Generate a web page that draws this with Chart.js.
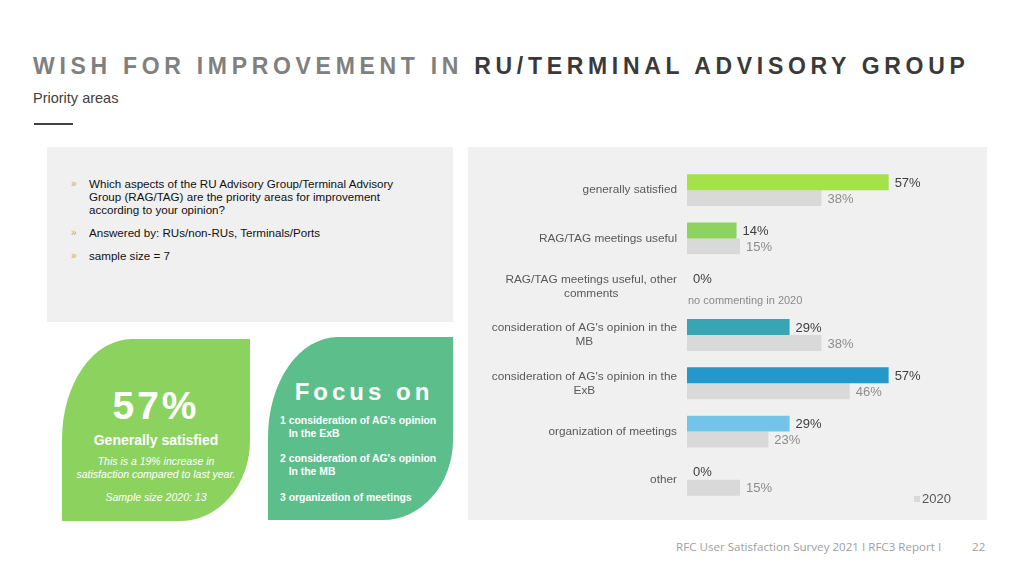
<!DOCTYPE html>
<html>
<head>
<meta charset="utf-8">
<script src="https://cdn.jsdelivr.net/npm/chart.js@4"></script>
<style>
    body { margin: 0; width: 1024px; height: 576px; background: #fff; font-family: "Liberation Sans", Arial, sans-serif; position: relative; overflow: hidden; }
    .title { position: absolute; left: 33px; top: 53px; font-size: 23px; font-weight: bold; letter-spacing: 4.7px; color: #808080; white-space: nowrap; }
    .title span { color: #3a3a3a; }
    .subtitle { position: absolute; left: 33px; top: 90px; font-size: 14.5px; color: #404040; }
    .rule { position: absolute; left: 34px; top: 123px; width: 39px; height: 2px; background: #404040; }
    .info { position: absolute; left: 47px; top: 147px; width: 406px; height: 175px; background: #f0f0f0; }
    .info ul { list-style: none; margin: 0; padding: 30px 0 0 42px; font-size: 11.6px; line-height: 13px; color: #111; }
    .info li { position: relative; margin-bottom: 10px; width: 330px; }
    .info li::before { content: "»"; position: absolute; left: -18px; color: #c9a56a; font-size: 10px; }
    .leaf { position: absolute; color: #fff; border-radius: 70px 0 70px 0 / 100px 0 80px 0; }
    .leaf1 { left: 62px; top: 339px; width: 188px; height: 182px; background: #8cd25f; text-align: center; }
    .leaf2 { left: 268px; top: 337px; width: 185px; height: 183px; background: #5cbe8b; }
    .big { position: absolute; left: 0; width: 188px; top: 45px; font-size: 39px; font-weight: bold; letter-spacing: 3px; }
    .gs { position: absolute; left: 0; width: 188px; top: 93px; font-size: 14px; font-weight: bold; }
    .it { position: absolute; left: 0; width: 188px; font-size: 10.5px; font-style: italic; line-height: 13px; }
    .focus { position: absolute; left: 0; width: 192px; text-align: center; top: 41px; font-size: 24px; font-weight: bold; letter-spacing: 4px; }
    .fi { position: absolute; left: 12px; font-size: 10.4px; font-weight: bold; line-height: 13px; white-space: nowrap; }
    .panel { position: absolute; left: 468px; top: 147px; width: 519px; height: 373px; background: #f0f0f0; }
    .footer { position: absolute; top: 539px; left: 676px; font-size: 11.6px; color: #a0a0a0; font-family: "Open Sans", sans-serif; white-space: nowrap; }
    .page { position: absolute; top: 539px; left: 972px; font-size: 11.6px; color: #a0a0a0; font-family: "Open Sans", sans-serif; }
</style>
</head>
<body>
<div class="title">WISH FOR IMPROVEMENT IN <span>RU/TERMINAL ADVISORY GROUP</span></div>
<div class="subtitle">Priority areas</div>
<div class="rule"></div>

<div class="info">
    <ul>
        <li>Which aspects of the RU Advisory Group/Terminal Advisory Group (RAG/TAG) are the priority areas for improvement according to your opinion?</li>
        <li>Answered by: RUs/non-RUs, Terminals/Ports</li>
        <li>sample size = 7</li>
    </ul>
</div>

<div class="leaf leaf1">
    <div class="big">57%</div>
    <div class="gs">Generally satisfied</div>
    <div class="it" style="top:116px">This is a 19% increase in<br>satisfaction compared to last year.</div>
    <div class="it" style="top:152px">Sample size 2020: 13</div>
</div>
<div class="leaf leaf2">
    <div class="focus">Focus on</div>
    <div class="fi" style="top:77px">1 consideration of AG's opinion<br>&nbsp;&nbsp;&nbsp;In the ExB</div>
    <div class="fi" style="top:115px">2 consideration of AG's opinion<br>&nbsp;&nbsp;&nbsp;In the MB</div>
    <div class="fi" style="top:154px">3 organization of meetings</div>
</div>

<div class="panel"><canvas id="chart" width="519" height="373"></canvas></div>

<div class="footer">RFC User Satisfaction Survey 2021 I RFC3 Report I</div>
<div class="page">22</div>

<script>
// categories (each entry = label lines)
const categories = [
    ['generally satisfied'],
    ['RAG/TAG meetings useful'],
    ['RAG/TAG meetings useful, other', 'comments'],
    ["consideration of AG's opinion in the", 'MB'],
    ["consideration of AG's opinion in the", 'ExB'],
    ['organization of meetings'],
    ['other']
];
const values2021 = [57, 14, 0, 29, 57, 29, 0];
const values2020 = [38, 15, null, 38, 46, 23, 15];
const notes2020 = [null, null, 'no commenting in 2020', null, null, null, null];
const colors2021 = ['#a3e24a', '#8dd35f', '#8dd35f', '#36a6b4', '#2399cb', '#72c5e8', '#8dd35f'];
const color2020 = '#d9d9d9';

// value labels next to bars + notes
const valueLabels = {
    id: 'valueLabels',
    afterDatasetsDraw(chart) {
        const ctx = chart.ctx;
        const xScale = chart.scales.x;
        ctx.save();
        ctx.textBaseline = 'middle';
        ctx.textAlign = 'left';
        chart.data.datasets.forEach((ds, i) => {
            const meta = chart.getDatasetMeta(i);
            meta.data.forEach((bar, j) => {
                const v = ds.data[j];
                if (v === null) {
                    if (i === 1 && notes2020[j]) {
                        ctx.font = '11px "Liberation Sans", Arial, sans-serif';
                        ctx.fillStyle = '#8a8a8a';
                        ctx.fillText(notes2020[j], xScale.getPixelForValue(0) + 1, bar.y + 6);
                    }
                    return;
                }
                ctx.font = '13px "Liberation Sans", Arial, sans-serif';
                ctx.fillStyle = i === 0 ? '#404040' : '#8c8c8c';
                ctx.fillText(v + '%', bar.x + 6, bar.y + 1);
            });
        });
        ctx.restore();
    }
};

// category labels: block right aligned, lines centred inside the block
const catLabels = {
    id: 'catLabels',
    afterDraw(chart) {
        const ctx = chart.ctx;
        const yScale = chart.scales.y;
        const right = chart.chartArea.left - 10;
        ctx.save();
        ctx.font = '11.8px "Liberation Sans", Arial, sans-serif';
        ctx.fillStyle = '#595959';
        ctx.textBaseline = 'middle';
        ctx.textAlign = 'center';
        categories.forEach((lines, j) => {
            const y = yScale.getPixelForValue(j);
            const w = Math.max(...lines.map(l => ctx.measureText(l).width));
            const cx = right - w / 2;
            const lh = 14;
            const y0 = y - (lines.length - 1) * lh / 2;
            lines.forEach((l, k) => ctx.fillText(l, cx, y0 + k * lh));
        });
        // legend for 2020
        const lx = chart.chartArea.right - 56;
        const ly = chart.chartArea.bottom - 5;
        ctx.fillStyle = color2020;
        ctx.fillRect(lx, ly - 3, 6, 6);
        ctx.fillStyle = '#595959';
        ctx.textAlign = 'left';
        ctx.font = '13px "Liberation Sans", Arial, sans-serif';
        ctx.fillText(chart.data.datasets[1].label, lx + 8, ly);
        ctx.restore();
    }
};

new Chart(document.getElementById('chart'), {
    type: 'bar',
    data: {
        labels: categories.map(c => c.join(' ')),
        datasets: [
            { label: '2021', data: values2021, backgroundColor: colors2021 },
            { label: '2020', data: values2020, backgroundColor: color2020 }
        ]
    },
    options: {
        indexAxis: 'y',
        responsive: false,
        animation: false,
        devicePixelRatio: 1,
        categoryPercentage: 0.66,
        barPercentage: 1,
        layout: { padding: { left: 219, right: 17, top: 19, bottom: 16 } },
        plugins: { legend: { display: false }, tooltip: { enabled: false } },
        scales: {
            x: { min: 0, max: 80, display: false },
            y: { display: false }
        }
    },
    plugins: [valueLabels, catLabels]
});
</script>
</body>
</html>
